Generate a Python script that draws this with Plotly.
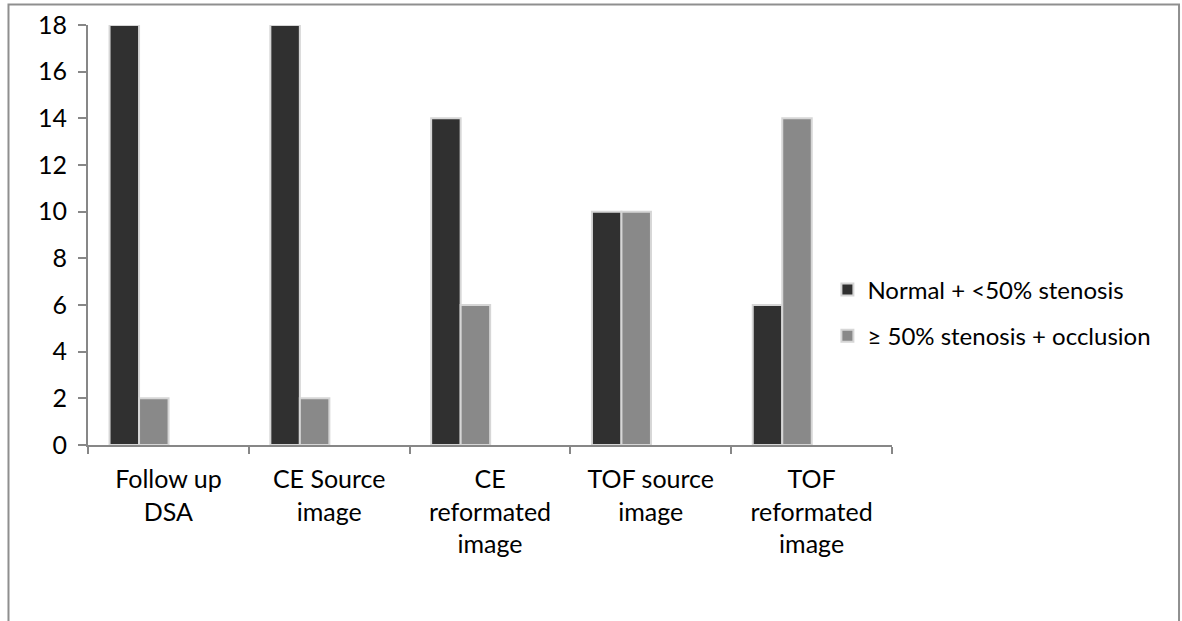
import plotly.graph_objects as go

# Categories and counts per series
categories = [
    "Follow up<br>DSA",
    "CE Source<br>image",
    "CE<br>reformated<br>image",
    "TOF source<br>image",
    "TOF<br>reformated<br>image",
]
normal_lt50 = [18, 18, 14, 10, 6]
ge50_occlusion = [2, 2, 6, 10, 14]
series_names = ["Normal + <50% stenosis", "\u2265 50% stenosis + occlusion"]

FONT = "Lato"
AXIS_COLOR = "#878787"
BAR_W = 0.1835

fig = go.Figure()
fig.add_trace(go.Bar(
    x=categories, y=normal_lt50, name=series_names[0],
    width=BAR_W, offset=-0.366, legendgroup="a",
    marker=dict(color="#303030", line=dict(color="#d6d6d6", width=2)),
))
fig.add_trace(go.Bar(
    x=categories, y=ge50_occlusion, name=series_names[1],
    width=BAR_W, offset=-0.1825, legendgroup="b",
    marker=dict(color="#898989", line=dict(color="#d6d6d6", width=2)),
))

# outer chart frame (open at the bottom edge of the view)
fig.add_shape(
    type="path", xref="paper", yref="paper",
    path="M -0.0989,-0.45 L -0.0989,1.0488 L 1.3570,1.0488 L 1.3570,-0.45",
    line=dict(color="#8f8f8f", width=2),
)

fig.update_layout(
    width=1182, height=621,
    margin=dict(l=88, r=290, t=25, b=176, autoexpand=False),
    paper_bgcolor="white", plot_bgcolor="white",
    font=dict(family=FONT, size=25, color="black"),
    barmode="group",
    showlegend=True,
    legend=dict(
        xref="container", yref="container",
        x=0.700, y=0.496, xanchor="left", yanchor="middle",
        font=dict(family=FONT, size=24, color="black"),
        tracegroupgap=12, bgcolor="rgba(0,0,0,0)",
    ),
    xaxis=dict(
        type="category", range=[-0.5, 4.5], tickson="boundaries",
        showline=True, linecolor=AXIS_COLOR, linewidth=2,
        ticks="outside", ticklen=7, tickcolor=AXIS_COLOR, tickwidth=2,
        showgrid=False, zeroline=False, ticklabelstandoff=11,
    ),
    yaxis=dict(
        range=[0, 18], dtick=2, tick0=0,
        showline=True, linecolor=AXIS_COLOR, linewidth=2,
        ticks="outside", ticklen=8, tickcolor=AXIS_COLOR, tickwidth=2,
        showgrid=False, zeroline=False, ticklabelstandoff=6,
    ),
)

fig.write_html("out.html")
